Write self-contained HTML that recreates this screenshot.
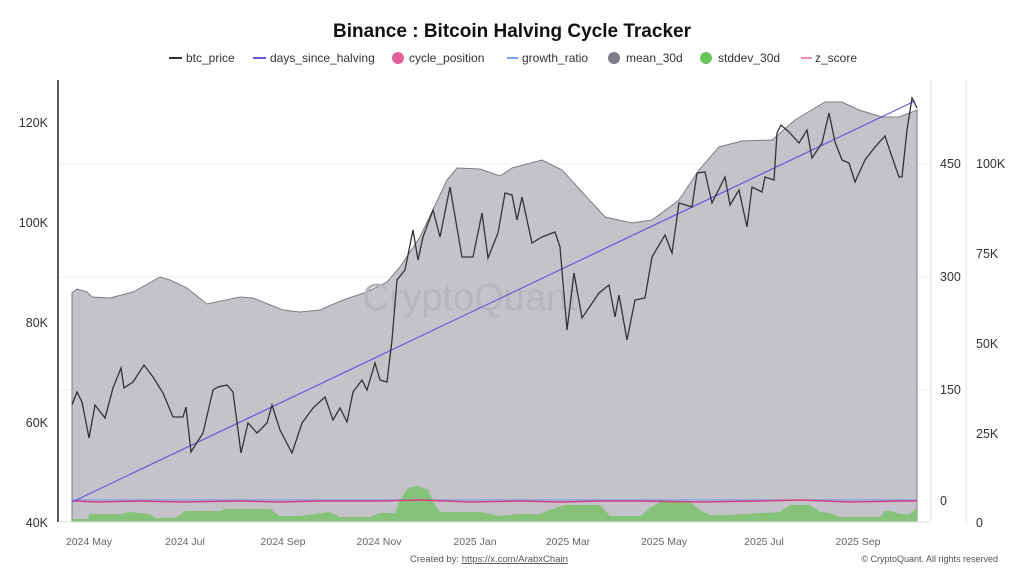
<!DOCTYPE html>
<html><head><meta charset="utf-8"><style>
body{margin:0;background:#fff;}
svg{display:block;font-family:"Liberation Sans",sans-serif;}
</style></head><body>
<svg width="1024" height="576" viewBox="0 0 1024 576">
<rect width="1024" height="576" fill="#fff"/>
<text x="512" y="37" text-anchor="middle" font-size="19" font-weight="bold" fill="#111">Binance : Bitcoin Halving Cycle Tracker</text>
<g font-size="12" fill="#333">
<line x1="169" y1="58" x2="182" y2="58" stroke="#333" stroke-width="2"/><text x="186" y="62">btc_price</text>
<line x1="253" y1="58" x2="266" y2="58" stroke="#6a5ae0" stroke-width="2"/><text x="270" y="62">days_since_halving</text>
<circle cx="398" cy="58" r="6" fill="#e0609c"/><text x="409" y="62">cycle_position</text>
<line x1="507" y1="58" x2="518" y2="58" stroke="#7a9ef0" stroke-width="2"/><text x="522" y="62">growth_ratio</text>
<circle cx="614" cy="58" r="6" fill="#7d7d8a"/><text x="626" y="62">mean_30d</text>
<circle cx="706" cy="58" r="6" fill="#6cc25c"/><text x="718" y="62">stddev_30d</text>
<line x1="801" y1="58" x2="812" y2="58" stroke="#f08cb0" stroke-width="2"/><text x="815" y="62">z_score</text>
</g>
<g stroke="#eee" stroke-width="1">
<line x1="60" y1="164" x2="930" y2="164"/><line x1="60" y1="277" x2="930" y2="277"/><line x1="60" y1="390" x2="930" y2="390"/>
</g>
<path d="M72,522 L72,293 77,289 87,292 92,297 110,298 133,292 160,277 170,280 187,288 207,304 240,297 253,298 283,310 300,312 320,310 343,300 367,292 387,282 400,267 420,237 447,180 457,168 480,169 500,176 512,168 542,160 562,170 605,217 632,223 652,220 679,200 699,170 719,147 742,141 772,140 795,120 825,102 842,102 859,110 882,117 899,117 912,112 917,110 L917,522 Z" fill="#c4c3c9" stroke="#7d7d85" stroke-width="1"/>
<text x="470" y="310" text-anchor="middle" font-size="38" fill="#b8b7be">CryptoQuant</text>
<path d="M72,522 L72,519 88,519 89,514 120,514 130,512 150,514 155,518 175,518 185,511 220,511 225,509 270,509 280,516 300,516 330,512 340,517 370,517 380,513 395,513 400,500 408,488 418,486 428,490 435,505 440,512 480,512 500,516 520,514 540,514 555,508 565,505 600,505 610,516 640,516 650,508 660,502 690,502 700,510 710,515 730,515 780,512 790,505 810,505 820,512 830,513 840,517 880,517 885,511 890,511 900,514 910,514 917,508 L917,522 Z" fill="#86c27a"/>
<line x1="72" y1="500" x2="917" y2="500" stroke="#7a9ef0" stroke-width="1.2"/>
<path d="M72,501 L100,502 140,501 180,502 240,501 280,502 320,501 380,501 420,500 470,502 520,501 560,502 600,501 640,501 700,502 760,501 800,500 850,502 900,501 917,501" fill="none" stroke="#d9407a" stroke-width="1.5"/>
<line x1="72" y1="502" x2="915" y2="101" stroke="#6a5ae0" stroke-width="1.2"/>
<path d="M72,405 77,392 82,402 89,438 95,405 105,418 113,388 121,368 124,388 133,382 144,365 153,377 163,393 173,417 183,417 186,407 191,452 203,433 213,390 218,387 227,385 233,392 241,453 248,423 257,433 267,423 272,405 280,430 292,453 302,423 313,408 325,397 333,420 340,408 347,422 353,392 362,380 367,390 375,363 380,380 387,382 392,340 397,280 405,270 413,230 418,260 423,237 433,210 440,237 450,187 462,257 473,257 482,213 488,258 498,233 505,193 512,195 517,220 522,197 532,243 542,237 555,232 560,247 567,330 574,273 582,318 599,293 609,285 615,317 619,295 627,340 635,300 645,298 652,257 665,235 672,253 679,203 692,207 697,173 705,172 712,203 725,177 730,205 739,190 747,227 752,187 762,192 765,177 774,180 777,133 781,125 789,132 799,143 807,130 812,158 822,143 829,113 835,142 842,160 849,163 855,182 865,160 875,147 885,136 892,157 899,177 902,177 907,130 912,98 917,108" fill="none" stroke="#333" stroke-width="1.3"/>
<line x1="58" y1="80" x2="58" y2="522" stroke="#222" stroke-width="1.5"/>
<line x1="60" y1="522" x2="930" y2="522" stroke="#ddd"/>
<line x1="931" y1="80" x2="931" y2="522" stroke="#ddd"/>
<line x1="966" y1="80" x2="966" y2="522" stroke="#ddd"/>
<g font-size="12.5" fill="#333" text-anchor="end">
<text x="48" y="127">120K</text><text x="48" y="227">100K</text><text x="48" y="327">80K</text><text x="48" y="427">60K</text><text x="48" y="527">40K</text>
</g>
<g font-size="12.5" fill="#333">
<text x="940" y="168">450</text><text x="940" y="281">300</text><text x="940" y="394">150</text><text x="940" y="505">0</text>
<text x="976" y="168">100K</text><text x="976" y="258">75K</text><text x="976" y="348">50K</text><text x="976" y="438">25K</text><text x="976" y="527">0</text>
</g>
<g font-size="10.5" fill="#666" text-anchor="middle">
<text x="89" y="545">2024 May</text><text x="185" y="545">2024 Jul</text><text x="283" y="545">2024 Sep</text><text x="379" y="545">2024 Nov</text><text x="475" y="545">2025 Jan</text><text x="568" y="545">2025 Mar</text><text x="664" y="545">2025 May</text><text x="764" y="545">2025 Jul</text><text x="858" y="545">2025 Sep</text>
</g>
<text x="410" y="562" font-size="9.5" fill="#555">Created by: <tspan text-decoration="underline">https://x.com/ArabxChain</tspan></text>
<text x="998" y="562" font-size="9" fill="#555" text-anchor="end">© CryptoQuant. All rights reserved</text>
</svg>
</body></html>
